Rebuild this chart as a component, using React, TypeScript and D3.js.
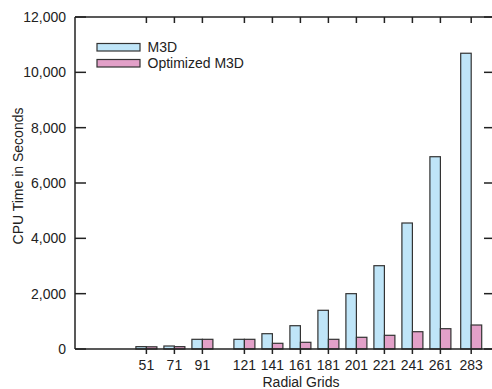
import React from "react";
import * as d3 from "d3";

const grids = [51, 71, 91, 121, 141, 161, 181, 201, 221, 241, 261, 283];
const m3d = [85, 108, 350, 350, 553, 842, 1399, 2000, 3011, 4554, 6950, 10690];
const optimized = [80, 85, 350, 350, 206, 242, 350, 423, 495, 625, 734, 867];
const yTicks = [0, 2000, 4000, 6000, 8000, 10000, 12000];
const seriesNames = ["M3D", "Optimized M3D"];
const colors = ["#bfe5f8", "#e2a0c8"];

const W = 492;
const H = 389;
const left = 75;
const right = 495;
const top = 17;
const bottom = 349;

export default function App() {
  const x = d3.scaleLinear().domain([0, 300]).range([left, right]);
  const y = d3.scaleLinear().domain([0, 12000]).range([bottom, top]);
  const bw = 10.5;
  const fmt = d3.format(",");
  const font = "'Liberation Sans', Arial, Helvetica, sans-serif";
  const axisColor = "#222";
  const series = [m3d, optimized];

  return (
    <svg
      width={W}
      height={H}
      style={{ position: "absolute", left: 0, top: 0, background: "#fff" }}
      fontFamily={font}
    >
      {/* bars */}
      {series.map((vals, si) =>
        grids.map((g, i) => {
          const x0 = si === 0 ? x(g) - bw : x(g);
          return (
            <rect
              key={`b${si}-${i}`}
              x={x0}
              y={y(vals[i])}
              width={bw}
              height={y(0) - y(vals[i])}
              fill={colors[si]}
              stroke="#333"
              strokeWidth={1.2}
            />
          );
        })
      )}

      {/* frame */}
      <line x1={left} x2={left} y1={top} y2={bottom} stroke={axisColor} strokeWidth={1.5} />
      <line x1={left} x2={right} y1={top} y2={top} stroke={axisColor} strokeWidth={1.5} />
      <line x1={left} x2={right} y1={bottom} y2={bottom} stroke={axisColor} strokeWidth={1.5} />
      <line x1={right} x2={right} y1={top} y2={bottom} stroke={axisColor} strokeWidth={1.5} />

      {/* y ticks */}
      {yTicks.map((t) => (
        <g key={`y${t}`}>
          <line x1={left} x2={left + 11} y1={y(t)} y2={y(t)} stroke={axisColor} strokeWidth={1.5} />
          <line x1={right - 11} x2={right} y1={y(t)} y2={y(t)} stroke={axisColor} strokeWidth={1.5} />
          <text
            x={66}
            y={y(t)}
            dy="0.36em"
            textAnchor="end"
            fontSize={14}
            fill="#222"
          >
            {fmt(t)}
          </text>
        </g>
      ))}

      {/* x ticks */}
      {grids.map((g) => (
        <g key={`x${g}`}>
          <line x1={x(g)} x2={x(g)} y1={bottom} y2={bottom + 5} stroke={axisColor} strokeWidth={1.5} />
          <line x1={x(g)} x2={x(g)} y1={top} y2={top + 6} stroke={axisColor} strokeWidth={1.5} />
          <text x={x(g)} y={370} textAnchor="middle" fontSize={14} fill="#222">
            {g}
          </text>
        </g>
      ))}

      {/* axis titles */}
      <text x={301} y={387} textAnchor="middle" fontSize={14} fill="#222">
        Radial Grids
      </text>
      <text
        transform={`translate(22.5,176) rotate(-90)`}
        textAnchor="middle"
        fontSize={14}
        fill="#222"
      >
        CPU Time in Seconds
      </text>

      {/* legend */}
      {seriesNames.map((name, i) => (
        <g key={name}>
          <rect
            x={97}
            y={43.5 + i * 16}
            width={43}
            height={7.5}
            fill={colors[i]}
            stroke="#333"
            strokeWidth={1.2}
          />
          <text x={147.5} y={52 + i * 16} fontSize={14} fill="#222">
            {name}
          </text>
        </g>
      ))}
    </svg>
  );
}
